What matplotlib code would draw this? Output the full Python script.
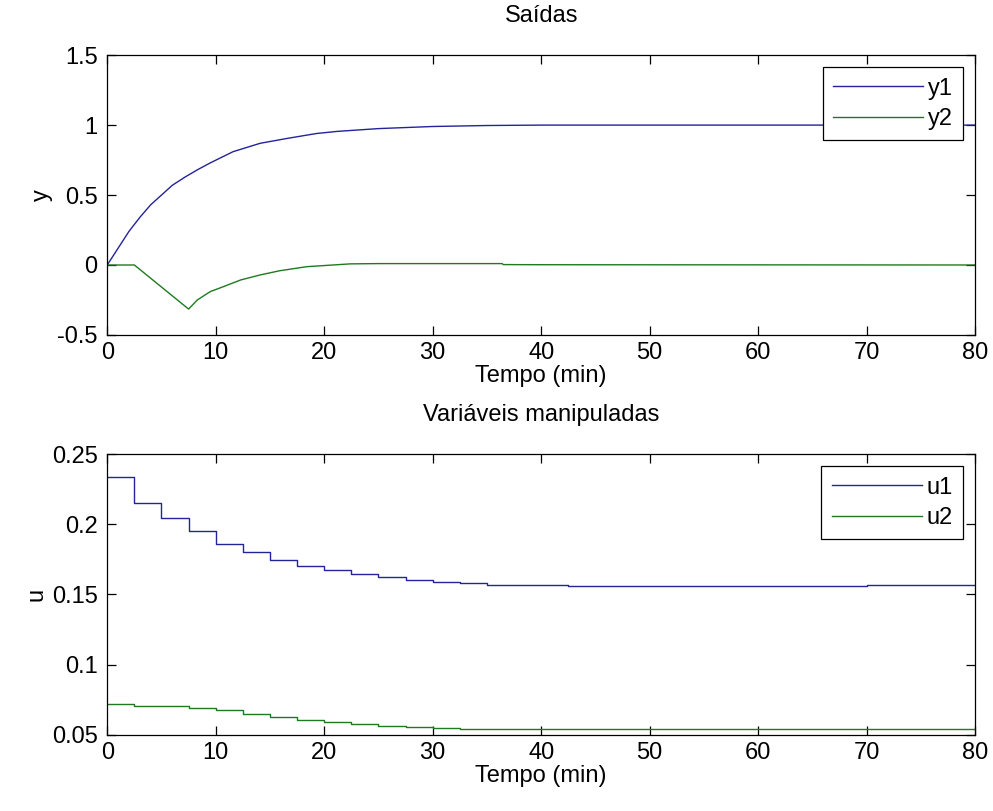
import numpy as np
import matplotlib
matplotlib.use('Agg')
from matplotlib import pyplot as plt

plt.rcParams['font.family'] = ['Liberation Sans', 'DejaVu Sans']

#####  outputs

t_y1 = [0, 1, 2, 3, 4, 5, 6, 7.2, 8.3, 9.5, 11.6, 14.1, 16.6, 19.3, 21.2, 25, 30, 35, 40, 80]
y1 = [0, 0.12, 0.24, 0.34, 0.43, 0.50, 0.57, 0.63, 0.68, 0.73, 0.81, 0.87, 0.905, 0.94, 0.955, 0.975, 0.99, 0.997, 1.0, 1.0]

t_y2 = [0, 2.5, 7.5, 8.3, 9.5, 10.7, 12.3, 14.1, 15.9, 18.4, 20.8, 22.4, 25, 30, 36.4, 36.5, 40, 80]
y2 = [0, 0, -0.315, -0.25, -0.19, -0.155, -0.107, -0.071, -0.041, -0.012, 0.0, 0.008, 0.01, 0.01, 0.01, 0.003, 0.002, 0.0]

#####  manipulated variables (zero-order hold)

t_u = [0, 2.5, 5, 7.5, 10, 12.5, 15, 17.5, 20, 22.5, 25, 27.5, 30, 32.5, 35, 37.5, 40, 42.5,
       45, 50, 55, 60, 65, 70, 75, 80]
u1 = [0.2335, 0.2152, 0.2045, 0.1949, 0.1862, 0.1802, 0.1747, 0.1705, 0.1676, 0.1645, 0.1621,
      0.1605, 0.1588, 0.1585, 0.1570, 0.1570, 0.1570, 0.1558,
      0.1558, 0.1558, 0.1558, 0.1558, 0.1558, 0.1570, 0.1570, 0.1570]
u2 = [0.0721, 0.0705, 0.0705, 0.0688, 0.0676, 0.0650, 0.0630, 0.0602, 0.0590, 0.0576, 0.0559,
      0.0553, 0.0548, 0.0543, 0.0540, 0.0540, 0.0540, 0.0540,
      0.0540, 0.0540, 0.0540, 0.0540, 0.0540, 0.0540, 0.0540, 0.0540]

#####

c1 = '#23239a'
c2 = '#1f7a1f'
fs = 17

fig = plt.figure(figsize=(9.93, 8.11), dpi=100)
ax1 = fig.add_axes([0.108, 0.587, 0.874, 0.345])
ax2 = fig.add_axes([0.108, 0.094, 0.874, 0.346])

def style(ax):
    ax.tick_params(direction='in', top=True, right=True, length=6.5, width=0.9, labelsize=fs)
    ax.tick_params(axis='y', pad=7)
    ax.tick_params(axis='x', pad=5)
    for s in ax.spines.values():
        s.set_linewidth(0.9)
    ax.set_xlim(0, 80)
    ax.set_xticks(np.arange(0, 81, 10))

def legend(ax):
    leg = ax.legend(loc='upper right', fontsize=fs, handlelength=3.8, fancybox=False,
                    edgecolor='black', framealpha=1, borderaxespad=0.5, labelspacing=0.35,
                    handletextpad=0.2, borderpad=0.45)
    leg.get_frame().set_linewidth(0.9)

ax1.plot(t_y1, y1, color=c1, lw=1.0, label='y1')
ax1.plot(t_y2, y2, color=c2, lw=1.0, label='y2')
style(ax1)
ax1.set_ylim(-0.5, 1.5)
ax1.set_yticks([-0.5, 0, 0.5, 1, 1.5])
ax1.set_yticklabels(['-0.5', '0', '0.5', '1', '1.5'])
ax1.set_title('Saídas', fontsize=fs, pad=24)
ax1.set_xlabel('Tempo (min)', fontsize=fs, labelpad=1)
ax1.set_ylabel('y', fontsize=fs, labelpad=3)
legend(ax1)

ax2.step(t_u, u1, where='post', color=c1, lw=1.0, label='u1')
ax2.step(t_u, u2, where='post', color=c2, lw=1.0, label='u2')
style(ax2)
ax2.set_ylim(0.05, 0.25)
ax2.set_yticks([0.05, 0.1, 0.15, 0.2, 0.25])
ax2.set_yticklabels(['0.05', '0.1', '0.15', '0.2', '0.25'])
ax2.set_title('Variáveis manipuladas', fontsize=fs, pad=24)
ax2.set_xlabel('Tempo (min)', fontsize=fs, labelpad=1)
ax2.set_ylabel('u', fontsize=fs, labelpad=3)
legend(ax2)

fig.savefig('out.png', dpi=100)
